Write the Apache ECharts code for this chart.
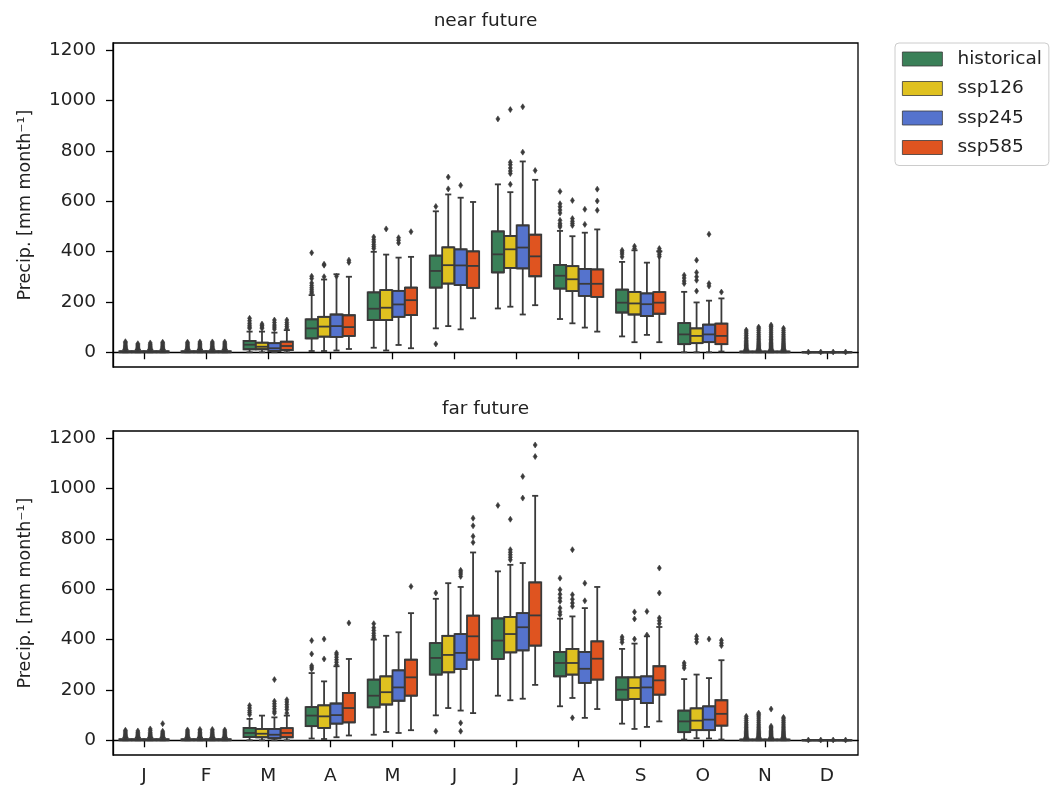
<!DOCTYPE html>
<html>
<head>
<meta charset="utf-8">
<script src="https://cdn.jsdelivr.net/npm/echarts@6/dist/echarts.min.js"></script>
<style>
  html, body { margin: 0; padding: 0; background: #fff; }
  #chart { width: 1056px; height: 789px; }
</style>
</head>
<body>
<div id="chart"></div>
<script>
// Monthly precipitation distributions per scenario, two horizons.
const months = ['J', 'F', 'M', 'A', 'M', 'J', 'J', 'A', 'S', 'O', 'N', 'D'];
const scenarios = ['historical', 'ssp126', 'ssp245', 'ssp585'];
const yTicks = [0, 200, 400, 600, 800, 1000, 1200];

// Each month: [lower whisker, Q1, median, Q3, upper whisker]  (mm month^-1)
const nearHistorical = [
  [0, 0, 1, 4, 10], [0, 0, 1, 4, 10], [0, 12, 30, 45, 82], [5, 55, 95, 131, 227],
  [18, 128, 173, 238, 399], [95, 257, 323, 384, 560], [174, 317, 389, 480, 667], [132, 253, 304, 347, 482],
  [63, 158, 197, 249, 359], [0, 32, 71, 116, 240], [0, 0, 1, 3, 8], [0, 0, 0, 0, 0]
];
const nearSsp126 = [
  [0, 0, 1, 4, 10], [0, 0, 1, 4, 10], [0, 12, 22, 38, 82], [5, 62, 102, 141, 289],
  [7, 128, 177, 247, 388], [104, 273, 346, 417, 627], [181, 335, 409, 462, 636], [115, 243, 290, 342, 461],
  [40, 150, 194, 240, 405], [0, 36, 65, 95, 198], [0, 0, 1, 3, 8], [0, 0, 0, 0, 0]
];
const nearSsp245 = [
  [0, 0, 1, 4, 10], [0, 0, 1, 4, 10], [0, 5, 16, 36, 78], [7, 61, 104, 150, 310],
  [29, 141, 190, 244, 376], [91, 267, 345, 409, 614], [150, 333, 416, 504, 758], [98, 224, 272, 331, 475],
  [69, 144, 191, 234, 356], [0, 40, 71, 110, 205], [0, 0, 1, 3, 8], [0, 0, 0, 0, 0]
];
const nearSsp585 = [
  [0, 0, 1, 4, 10], [0, 0, 1, 4, 10], [0, 9, 25, 42, 88], [13, 65, 100, 147, 300],
  [16, 148, 207, 257, 379], [135, 256, 343, 401, 597], [187, 302, 381, 467, 685], [82, 220, 272, 329, 488],
  [40, 153, 197, 239, 401], [3, 32, 65, 114, 214], [0, 0, 1, 3, 8], [0, 0, 0, 0, 0]
];

const farHistorical = [
  [0, 0, 1, 4, 10], [0, 0, 1, 4, 10], [0, 13, 29, 49, 85], [7, 56, 98, 132, 267],
  [22, 131, 177, 241, 400], [99, 261, 327, 386, 562], [177, 323, 396, 484, 671], [135, 254, 307, 351, 483],
  [66, 161, 201, 250, 363], [3, 32, 75, 118, 243], [0, 0, 1, 3, 8], [0, 0, 0, 0, 0]
];
const farSsp126 = [
  [0, 0, 1, 4, 10], [0, 0, 1, 4, 10], [0, 12, 26, 45, 98], [5, 49, 95, 139, 234],
  [33, 142, 191, 254, 415], [128, 270, 339, 415, 624], [159, 349, 422, 490, 697], [168, 261, 307, 363, 492],
  [45, 164, 208, 250, 384], [8, 40, 78, 127, 261], [0, 0, 1, 3, 8], [0, 0, 0, 0, 0]
];
const farSsp245 = [
  [0, 0, 1, 4, 10], [0, 0, 1, 4, 10], [0, 8, 22, 45, 91], [12, 66, 100, 146, 294],
  [29, 157, 210, 278, 429], [118, 283, 347, 422, 609], [165, 357, 449, 505, 704], [89, 228, 284, 351, 525],
  [53, 148, 210, 254, 413], [7, 40, 82, 135, 247], [0, 0, 1, 3, 8], [0, 0, 0, 0, 0]
];
const farSsp585 = [
  [0, 0, 1, 4, 10], [0, 0, 1, 4, 10], [0, 12, 29, 48, 98], [19, 71, 128, 188, 323],
  [40, 177, 250, 320, 505], [108, 320, 413, 495, 746], [220, 376, 496, 627, 971], [124, 241, 324, 393, 609],
  [75, 181, 238, 294, 450], [3, 58, 105, 159, 318], [0, 0, 1, 3, 8], [0, 0, 0, 0, 0]
];

// Outliers per month
const nearHistoricalOut = [
  [12, 14, 16, 18, 21, 24, 28, 33, 38, 42], [12, 14, 16, 19, 22, 26, 31, 36, 40],
  [95, 100, 107, 115, 125, 135], [234, 240, 248, 256, 265, 275, 293, 302, 395],
  [412, 420, 428, 438, 447, 458], [33, 579], [927], [498, 505, 512, 524, 553, 565, 578, 590, 639],
  [379, 390, 398, 405], [273, 283, 295, 306],
  [10, 12, 14, 16, 18, 21, 24, 27, 30, 34, 38, 43, 48, 54, 60, 67, 74, 81, 88], [1]
];
const nearSsp126Out = [
  [12, 14, 16, 19, 22, 26, 30, 34], [12, 14, 16, 19, 22, 26, 31, 36, 41],
  [95, 100, 106, 112], [300, 346, 350], [490], [649, 696],
  [667, 710, 720, 732, 745, 755, 964], [504, 512, 520, 531, 603], [412, 421],
  [243, 286, 300, 317, 366],
  [10, 12, 14, 16, 18, 21, 24, 27, 31, 35, 40, 45, 51, 57, 64, 71, 79, 87, 94, 100], [1]
];
const nearSsp245Out = [
  [12, 14, 16, 19, 22, 26, 31, 37], [12, 14, 16, 19, 22, 26, 31, 36, 41],
  [92, 100, 108, 118, 128], [302], [434, 445, 455], [663], [795, 975], [508, 568], [],
  [263, 273, 469],
  [10, 12, 14, 16, 18, 21, 24, 27, 31, 35, 40, 45, 51, 57, 64, 72, 80, 88, 96, 102, 108], [1]
];
const nearSsp585Out = [
  [12, 14, 16, 19, 22, 26, 31, 36, 40], [12, 14, 16, 19, 22, 26, 31, 36, 41],
  [95, 102, 110, 118, 128], [357, 366], [479], [], [722], [564, 601, 648],
  [380, 388, 396, 404, 412], [239],
  [10, 12, 14, 16, 18, 21, 24, 27, 31, 35, 40, 45, 51, 57, 64, 71, 79, 87, 95], [1]
];

const farHistoricalOut = [
  [12, 14, 16, 19, 22, 26, 31, 36, 40], [12, 14, 16, 19, 22, 26, 31, 36, 41],
  [102, 110, 118, 128, 138], [283, 290, 296, 343, 396], [406, 415, 425, 436, 447, 463],
  [36, 585], [933], [499, 510, 525, 552, 565, 580, 598, 644], [389, 400, 410], [287, 297, 307],
  [10, 12, 14, 16, 18, 21, 24, 27, 31, 35, 40, 45, 51, 57, 64, 71, 79, 87, 95], [1]
];
const farSsp126Out = [
  [12, 14, 16, 19, 22, 26, 31, 37], [12, 14, 16, 19, 22, 26, 31, 37, 43],
  [], [323, 402], [], [], [717, 727, 737, 747, 757, 878], [89, 532, 545, 560, 578, 757],
  [402, 482, 510], [390, 402, 413],
  [10, 12, 14, 16, 18, 21, 24, 27, 31, 35, 40, 45, 51, 57, 64, 72, 80, 88, 96, 102, 108], [1]
];
const farSsp245Out = [
  [12, 14, 16, 19, 22, 26, 31, 38, 45], [12, 14, 16, 19, 22, 26, 31, 37, 43],
  [108, 115, 125, 135, 145, 155, 241], [300, 310, 320, 330, 340, 347], [],
  [36, 69, 651, 660, 668, 675], [962, 1048], [554, 624], [418, 512], [402],
  [10, 12, 14, 16, 18, 21, 24, 27, 31, 35, 40, 45, 50, 56, 124], [1]
];
const farSsp585Out = [
  [12, 14, 16, 19, 22, 26, 30, 36, 66], [12, 14, 16, 19, 22, 26, 31, 36, 41],
  [108, 122, 132, 142, 152, 161], [466], [611], [786, 810, 852, 882], [1127, 1173], [],
  [463, 475, 486, 585, 684], [376, 386, 397],
  [10, 12, 14, 16, 18, 21, 24, 27, 31, 35, 40, 45, 51, 57, 64, 71, 78, 85, 91], [1]
];

const panelTitles = ['near future', 'far future'];
const panelBoxes = [
  [nearHistorical, nearSsp126, nearSsp245, nearSsp585],
  [farHistorical, farSsp126, farSsp245, farSsp585]
];
const panelOutliers = [
  [nearHistoricalOut, nearSsp126Out, nearSsp245Out, nearSsp585Out],
  [farHistoricalOut, farSsp126Out, farSsp245Out, farSsp585Out]
];

// ---- styling ----
const FONT = 'DejaVu Sans';
const TEXT = '#222222';
const colors = ['#3a8058', '#dfc120', '#5573cd', '#df5420'];
const LINE = '#3a3a3a';
const LW = 1.8;
const Y_MIN = -58.5, Y_MAX = 1228.5;
const GRID_LEFT = 113, GRID_W = 745, GRID_H = 324;
const GRID_TOPS = [43, 431];

function lineEl(x1, y1, x2, y2) {
  return { type: 'line', shape: { x1, y1, x2, y2 }, style: { stroke: LINE, lineWidth: LW } };
}

// Dodged box: 4 hues share 0.8 of the band, each box 0.98 of its slot
function boxRenderer(h) {
  return function (params, api) {
    const i = api.value(0);
    const band = api.size([1, 0])[0];
    const cx = api.coord([i, 0])[0] + (h - 1.5) * 0.2 * band;
    const w = 0.196 * band;
    const y = k => api.coord([i, api.value(k)])[1];
    const yl = y(1), yq1 = y(2), ym = y(3), yq3 = y(4), yh = y(5);
    return {
      type: 'group',
      children: [
        lineEl(cx, yq1, cx, yl),
        lineEl(cx, yq3, cx, yh),
        lineEl(cx - w / 4, yl, cx + w / 4, yl),
        lineEl(cx - w / 4, yh, cx + w / 4, yh),
        {
          type: 'rect',
          shape: { x: cx - w / 2, y: yq3, width: w, height: Math.max(yq1 - yq3, 0.01) },
          style: { fill: colors[h], stroke: LINE, lineWidth: LW }
        },
        lineEl(cx - w / 2, yq1, cx + w / 2, yq1),
        lineEl(cx - w / 2, yq3, cx + w / 2, yq3),
        lineEl(cx - w / 2, ym, cx + w / 2, ym)
      ]
    };
  };
}

// Thin diamond flier markers
function flierRenderer(h) {
  return function (params, api) {
    const i = api.value(0);
    const band = api.size([1, 0])[0];
    const p = api.coord([i, api.value(1)]);
    const cx = p[0] + (h - 1.5) * 0.2 * band;
    const cy = p[1];
    const a = 2.0, b = 3.0;
    return {
      type: 'polygon',
      shape: { points: [[cx, cy - b], [cx + a, cy], [cx, cy + b], [cx - a, cy]] },
      style: { fill: LINE, stroke: LINE, lineWidth: 0.6 }
    };
  };
}

const grids = GRID_TOPS.map(top => ({
  left: GRID_LEFT, top: top, width: GRID_W, height: GRID_H,
  show: true, borderColor: '#000', borderWidth: 1.3, backgroundColor: '#fff'
}));

const xAxes = GRID_TOPS.map((t, p) => ({
  type: 'category', gridIndex: p, data: months, boundaryGap: true,
  axisLine: { show: true, lineStyle: { color: '#000', width: 1.3 } },
  axisTick: { show: true, alignWithLabel: true, length: 7, lineStyle: { color: '#000', width: 1.3 } },
  axisLabel: { show: p === 1, interval: 0, margin: 12, fontFamily: FONT, fontSize: 18.5, color: TEXT },
  splitLine: { show: false }
}));

const yAxes = GRID_TOPS.map((t, p) => ({
  type: 'value', gridIndex: p, min: Y_MIN, max: Y_MAX,
  name: 'Precip. [mm month\u207B\u00B9]', nameLocation: 'middle', nameRotate: 90, nameGap: 79,
  nameTextStyle: { fontFamily: FONT, fontSize: 17.5, color: TEXT },
  axisLine: { show: true, lineStyle: { color: '#000', width: 1.3 } },
  axisTick: { show: true, length: 7, customValues: yTicks, lineStyle: { color: '#000', width: 1.3 } },
  axisLabel: {
    show: true, customValues: yTicks, margin: 17, fontFamily: FONT, fontSize: 18.5, color: TEXT,
    formatter: v => String(Math.round(v))
  },
  splitLine: { show: false }
}));

const series = [];
panelBoxes.forEach((boxes, p) => {
  boxes.forEach((arr, h) => {
    series.push({
      type: 'custom', name: scenarios[h], xAxisIndex: p, yAxisIndex: p,
      renderItem: boxRenderer(h), z: 2,
      encode: { x: 0, y: [1, 2, 3, 4, 5] },
      itemStyle: { color: colors[h] },
      data: arr.map((b, i) => [i].concat(b))
    });
    const outs = panelOutliers[p][h];
    const pts = [];
    outs.forEach((list, i) => list.forEach(v => pts.push([i, v])));
    series.push({
      type: 'custom', name: scenarios[h], xAxisIndex: p, yAxisIndex: p,
      renderItem: flierRenderer(h), z: 3,
      encode: { x: 0, y: 1 },
      itemStyle: { color: colors[h] },
      data: pts
    });
  });
});

const chart = echarts.init(document.getElementById('chart'), null, { renderer: 'canvas' });
chart.setOption({
  animation: false,
  backgroundColor: '#fff',
  grid: grids,
  xAxis: xAxes,
  yAxis: yAxes,
  legend: {
    orient: 'vertical', left: 895, top: 43,
    padding: [6, 7, 8, 7],
    itemWidth: 40, itemHeight: 14, itemGap: 9.5,
    icon: 'rect',
    borderColor: '#cccccc', borderWidth: 1, borderRadius: 4,
    backgroundColor: 'rgba(255,255,255,0.8)',
    selectedMode: false,
    textStyle: { fontFamily: FONT, fontSize: 18.5, color: TEXT, lineHeight: 20, padding: [0, 0, 0, 10] },
    data: scenarios.map((s, h) => ({
      name: s,
      itemStyle: { color: colors[h], borderColor: LINE, borderWidth: 0.8 }
    }))
  },
  graphic: panelTitles.map((t, p) => ({
    type: 'text',
    x: GRID_LEFT + GRID_W / 2,
    y: GRID_TOPS[p] - 22,
    style: {
      text: t, fontFamily: FONT, fontSize: 18.5, fill: TEXT,
      textAlign: 'center', textVerticalAlign: 'middle'
    }
  })),
  series: series
});
</script>
</body>
</html>
